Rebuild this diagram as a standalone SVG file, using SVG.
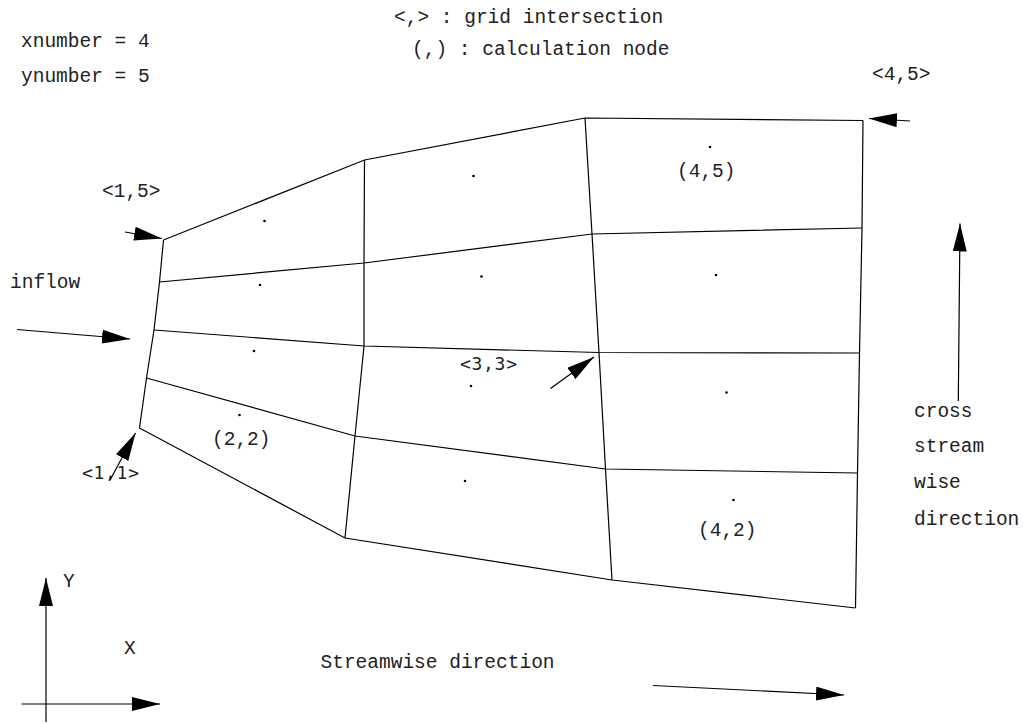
<svg xmlns="http://www.w3.org/2000/svg" width="1023" height="724" viewBox="0 0 1023 724">
<defs>
<marker id="ah" viewBox="0 0 28 14" refX="28" refY="7" markerWidth="28" markerHeight="14" markerUnits="userSpaceOnUse" orient="auto">
<path d="M0,0 L28,7 L0,14 z" fill="#000"/>
</marker>
</defs>
<style>
.t{font-family:"Liberation Mono","Courier New",monospace;font-size:19.5px;fill:#222}
.s{font-family:"DejaVu Sans Mono",monospace;font-size:18px;fill:#222}
.g{fill:none;stroke:#000;stroke-width:1.2}
.a{fill:none;stroke:#000;stroke-width:1.2;marker-end:url(#ah)}
.d{fill:#000}
</style>
<rect width="1023" height="724" fill="#fff"/>

<g id="legend">
<text class="t" x="394" y="23">&lt;,&gt; : grid intersection</text>
<text class="t" x="412" y="55">(,) : calculation node</text>
<text class="t" x="21" y="47">xnumber = 4</text>
<text class="t" x="21" y="82">ynumber = 5</text>
</g>

<g id="grid">
<polyline class="g" points="163.5,240 159.5,282 154,330 146.5,378 139.5,428"/>
<polyline class="g" points="364.5,160 364,263 364,346 355,436 345,538"/>
<polyline class="g" points="585,118 592,234 599,352.5 605.5,469 612,580"/>
<polyline class="g" points="863,120.5 862,228 859.5,353 857.5,473 855.5,608"/>
<polyline class="g" points="163.5,240 364.5,160 585,118 863,120.5"/>
<polyline class="g" points="159.5,282 364,263 592,234 862,228"/>
<polyline class="g" points="154,330 364,346 599,352.5 859.5,353"/>
<polyline class="g" points="146.5,378 355,436 605.5,469 857.5,473"/>
<polyline class="g" points="139.5,428 345,538 612,580 855.5,608"/>
</g>

<g id="nodes">
<circle class="d" cx="264.5" cy="221" r="1.3"/>
<circle class="d" cx="473.5" cy="176" r="1.3"/>
<circle class="d" cx="710" cy="147" r="1.3"/>
<circle class="d" cx="260" cy="285" r="1.3"/>
<circle class="d" cx="481.5" cy="276.5" r="1.3"/>
<circle class="d" cx="716" cy="275" r="1.3"/>
<circle class="d" cx="254" cy="351" r="1.3"/>
<circle class="d" cx="471" cy="386" r="1.3"/>
<circle class="d" cx="726.5" cy="392.5" r="1.3"/>
<circle class="d" cx="239.5" cy="415" r="1.3"/>
<circle class="d" cx="465" cy="481" r="1.3"/>
<circle class="d" cx="733.5" cy="500" r="1.3"/>
</g>

<g id="labels">
<text class="t" x="872" y="80">&lt;4,5&gt;</text>
<text class="t" x="102" y="197">&lt;1,5&gt;</text>
<text class="t" x="10" y="288">inflow</text>
<text class="t" x="212" y="445">(2,2)</text>
<text class="s" x="460" y="369.5" textLength="57" lengthAdjust="spacing">&lt;3,3&gt;</text>
<text class="s" x="82" y="478.5" textLength="57" lengthAdjust="spacing">&lt;1,1&gt;</text>
<text class="t" x="677" y="177">(4,5)</text>
<text class="t" x="698" y="536">(4,2)</text>
<text class="t" x="914" y="417">cross</text>
<text class="t" x="914" y="452">stream</text>
<text class="t" x="914" y="488">wise</text>
<text class="t" x="914" y="525">direction</text>
<text class="t" x="63" y="587">Y</text>
<text class="t" x="124" y="654">X</text>
<text class="t" x="320.5" y="668">Streamwise direction</text>
</g>

<g id="connectors">
<line class="a" x1="910" y1="121" x2="869" y2="118.5"/>
<line class="a" x1="125" y1="232" x2="162" y2="238.5"/>
<line class="a" x1="17" y1="329.5" x2="130" y2="339"/>
<line class="a" x1="110" y1="480" x2="135.5" y2="433"/>
<line class="a" x1="550.5" y1="388.5" x2="594" y2="357"/>
<line class="a" x1="958.3" y1="401" x2="960" y2="223.5"/>
<line class="a" x1="46" y1="722" x2="46" y2="578"/>
<line class="a" x1="21.5" y1="704" x2="160" y2="704"/>
<line class="a" x1="653" y1="685.5" x2="844" y2="695"/>
</g>
</svg>
